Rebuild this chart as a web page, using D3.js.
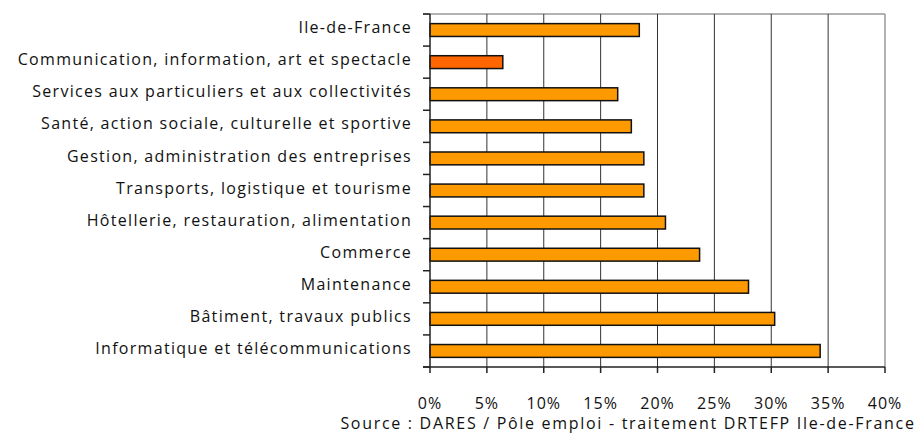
<!DOCTYPE html>
<html>
<head>
<meta charset="utf-8">
<script src="https://cdn.jsdelivr.net/npm/d3@7"></script>
<style>
  body { margin: 0; background: #fff; }
  text { font-family: "Open Sans", sans-serif; fill: #111; }
</style>
</head>
<body>
<div id="chart"></div>
<script>
var width = 917
var height = 434
var margin = {top: 14, right: 32, bottom: 67, left: 430}

// categories, top to bottom
var categories = [
    "Ile-de-France",
    "Communication, information, art et spectacle",
    "Services aux particuliers et aux collectivités",
    "Santé, action sociale, culturelle et sportive",
    "Gestion, administration des entreprises",
    "Transports, logistique et tourisme",
    "Hôtellerie, restauration, alimentation",
    "Commerce",
    "Maintenance",
    "Bâtiment, travaux publics",
    "Informatique et télécommunications"
]
var values = [18.4, 6.4, 16.5, 17.7, 18.8, 18.8, 20.7, 23.7, 28.0, 30.3, 34.3]
var highlighted = ["Communication, information, art et spectacle"]
var xTicks = [0, 5, 10, 15, 20, 25, 30, 35, 40]
var source = "Source : DARES / Pôle emploi - traitement DRTEFP Ile-de-France"

var data = categories.map((c, i) => ({cat: c, val: values[i]}))

var svg = d3.select("#chart").append("svg")
    .attr("width", width)
    .attr("height", height)

var innerW = width - margin.left - margin.right
var innerH = height - margin.top - margin.bottom

var g = svg.append("g")
    .attr("transform", "translate(" + margin.left + "," + margin.top + ")")

var x = d3.scaleLinear().domain([0, 40]).range([0, innerW])
var y = d3.scaleBand().domain(categories).range([0, innerH]).paddingInner(0.6).paddingOuter(0.3)

// frame (top and right, grey)
g.append("line").attr("x1", -7).attr("x2", innerW).attr("y1", 0).attr("y2", 0)
    .attr("stroke", "#999").attr("stroke-width", 1.5)
g.append("line").attr("x1", innerW).attr("x2", innerW).attr("y1", 0).attr("y2", innerH)
    .attr("stroke", "#999").attr("stroke-width", 1.5)

// vertical gridlines
g.selectAll(".grid")
    .data(xTicks.filter(d => d > 0 && d < 40))
    .join("line")
    .attr("x1", d => x(d)).attr("x2", d => x(d))
    .attr("y1", 0).attr("y2", innerH)
    .attr("stroke", "#333").attr("stroke-width", 1)

// bars
g.selectAll(".bar")
    .data(data)
    .join("rect")
    .attr("x", 0)
    .attr("y", d => y(d.cat))
    .attr("width", d => x(d.val))
    .attr("height", y.bandwidth())
    .attr("fill", d => highlighted.includes(d.cat) ? "#FF6600" : "#FF9900")
    .attr("stroke", "#111")
    .attr("stroke-width", 1.5)

// y axis: ticks between categories
var boundaries = d3.range(categories.length + 1).map(i => i * innerH / categories.length)
g.append("line").attr("x1", 0).attr("x2", 0).attr("y1", 0).attr("y2", innerH)
    .attr("stroke", "#222").attr("stroke-width", 1.5)
g.selectAll(".ytick")
    .data(boundaries)
    .join("line")
    .attr("x1", -7).attr("x2", 0)
    .attr("y1", d => d).attr("y2", d => d)
    .attr("stroke", "#222").attr("stroke-width", 1.5)

g.selectAll(".ylab")
    .data(categories)
    .join("text")
    .attr("x", -18)
    .attr("y", d => y(d) + y.bandwidth() / 2 - 2)
    .attr("dy", "0.32em")
    .attr("text-anchor", "end")
    .style("font-size", "16px")
    .style("letter-spacing", "1.3px")
    .text(d => d)

// x axis
g.append("line").attr("x1", -7).attr("x2", innerW).attr("y1", innerH).attr("y2", innerH)
    .attr("stroke", "#222").attr("stroke-width", 1.5)
g.selectAll(".xtick")
    .data(xTicks)
    .join("line")
    .attr("x1", d => x(d)).attr("x2", d => x(d))
    .attr("y1", innerH).attr("y2", innerH + 6)
    .attr("stroke", "#222").attr("stroke-width", 1.5)
g.selectAll(".xlab")
    .data(xTicks)
    .join("text")
    .attr("x", d => x(d))
    .attr("y", innerH + 42)
    .attr("text-anchor", "middle")
    .style("font-size", "16px")
    .style("letter-spacing", "1px")
    .text(d => d + "%")

svg.append("text")
    .attr("x", 628)
    .attr("y", 429)
    .attr("text-anchor", "middle")
    .style("font-size", "16px")
    .style("letter-spacing", "1.7px")
    .text(source)
</script>
</body>
</html>
